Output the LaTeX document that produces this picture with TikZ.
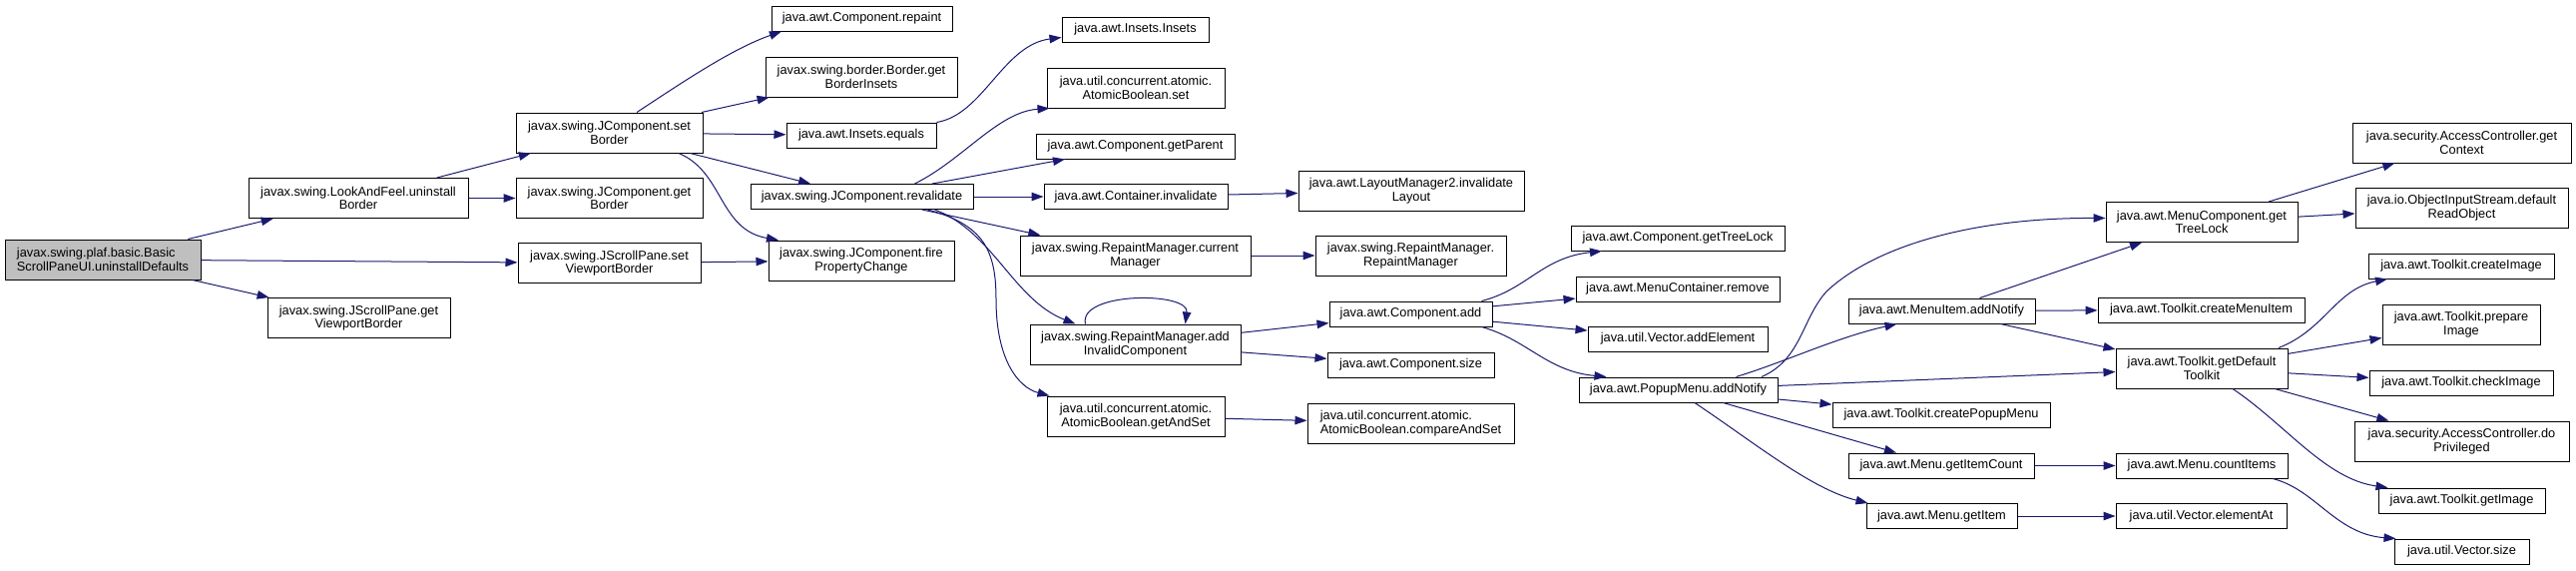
\documentclass[tikz,border=0pt]{standalone}
\usepackage{fontspec}
\setmainfont{Liberation Sans}
\usetikzlibrary{arrows.meta}
\definecolor{edgeblue}{HTML}{191970}
\definecolor{rootgray}{HTML}{BFBFBF}
\tikzset{
  fn/.style={draw=black, line width=1pt, fill=white, inner sep=0pt, align=center,
    font=\fontsize{12.8}{13.5}\selectfont},
  one/.style={minimum height=25pt},
  two/.style={minimum height=40pt},
  call/.style={->, draw=edgeblue, line width=1pt},
}
\begin{document}
\begin{tikzpicture}[x=1pt,y=-1pt,>={Triangle[length=12pt,width=8.5pt]}]
  \useasboundingbox (0,0) rectangle (2581,571);

  % 起点
  \node[fn,two,fill=rootgray,align=left,minimum width=196pt] (root) at (103,260) {javax.swing.plaf.basic.Basic\\ScrollPaneUI.uninstallDefaults};

  % 第二、三列
  \node[fn,two,minimum width=220pt] (laf) at (359,198.5) {javax.swing.LookAndFeel.uninstall\\Border};
  \node[fn,two,minimum width=183pt] (getVB) at (359.5,318.5) {javax.swing.JScrollPane.get\\ViewportBorder};
  \node[fn,two,minimum width=187pt] (setBorder) at (610.5,133) {javax.swing.JComponent.set\\Border};
  \node[fn,two,minimum width=187pt] (getBorder) at (610.5,198.5) {javax.swing.JComponent.get\\Border};
  \node[fn,two,minimum width=183pt] (setVB) at (610.5,263.5) {javax.swing.JScrollPane.set\\ViewportBorder};

  % 第四列
  \node[fn,one,minimum width=181pt] (repaint) at (863.5,18.5) {java.awt.Component.repaint};
  \node[fn,two,minimum width=192pt] (borderInsets) at (863,77) {javax.swing.border.Border.get\\BorderInsets};
  \node[fn,one,minimum width=150pt] (insEq) at (863,135.5) {java.awt.Insets.equals};
  \node[fn,one,minimum width=223pt] (revalidate) at (863.5,197) {javax.swing.JComponent.revalidate};
  \node[fn,two,minimum width=186pt] (fire) at (863,261) {javax.swing.JComponent.fire\\PropertyChange};

  % 第五列
  \node[fn,one,minimum width=147pt] (insIns) at (1137.5,29.5) {java.awt.Insets.Insets};
  \node[fn,two,minimum width=178pt] (abSet) at (1138,88) {java.util.concurrent.atomic.\\AtomicBoolean.set};
  \node[fn,one,minimum width=199pt] (getParent) at (1137.5,146.5) {java.awt.Component.getParent};
  \node[fn,one,minimum width=184pt] (contInv) at (1138,197) {java.awt.Container.invalidate};
  \node[fn,two,minimum width=231pt] (curMgr) at (1137.5,256) {javax.swing.RepaintManager.current\\Manager};
  \node[fn,two,minimum width=211pt] (addInv) at (1137.5,345) {javax.swing.RepaintManager.add\\InvalidComponent};
  \node[fn,two,minimum width=178pt] (getAndSet) at (1138,417) {java.util.concurrent.atomic.\\AtomicBoolean.getAndSet};

  % 第六列
  \node[fn,two,minimum width=226pt] (invLayout) at (1414,191) {java.awt.LayoutManager2.invalidate\\Layout};
  \node[fn,two,minimum width=191pt] (rmCtor) at (1413.5,256) {javax.swing.RepaintManager.\\RepaintManager};
  \node[fn,one,minimum width=163pt] (compAdd) at (1413.5,314.5) {java.awt.Component.add};
  \node[fn,one,minimum width=167pt] (compSize) at (1413.5,365.5) {java.awt.Component.size};
  \node[fn,two,align=left,minimum width=207pt] (cas) at (1413.5,424) {java.util.concurrent.atomic.\\AtomicBoolean.compareAndSet};

  % 第七列
  \node[fn,one,minimum width=214pt] (treeLock) at (1681,238.5) {java.awt.Component.getTreeLock};
  \node[fn,one,minimum width=204pt] (mcRemove) at (1681,289.5) {java.awt.MenuContainer.remove};
  \node[fn,one,minimum width=180pt] (addElem) at (1681,339.5) {java.util.Vector.addElement};
  \node[fn,one,minimum width=199pt] (popup) at (1681.5,390.5) {java.awt.PopupMenu.addNotify};

  % 第八列
  \node[fn,one,minimum width=187pt] (miAdd) at (1945.5,311.5) {java.awt.MenuItem.addNotify};
  \node[fn,one,minimum width=218pt] (mkPopup) at (1945,415.5) {java.awt.Toolkit.createPopupMenu};
  \node[fn,one,minimum width=186pt] (itemCount) at (1945,466.5) {java.awt.Menu.getItemCount};
  \node[fn,one,minimum width=151pt] (getItem) at (1945.5,517) {java.awt.Menu.getItem};

  % 第九列
  \node[fn,two,minimum width=192pt] (mcTreeLock) at (2206,222.5) {java.awt.MenuComponent.get\\TreeLock};
  \node[fn,one,minimum width=207pt] (mkMenuItem) at (2205.5,310.5) {java.awt.Toolkit.createMenuItem};
  \node[fn,two,minimum width=172pt] (defTk) at (2206,369) {java.awt.Toolkit.getDefault\\Toolkit};
  \node[fn,one,minimum width=172pt] (countItems) at (2206,466.5) {java.awt.Menu.countItems};
  \node[fn,one,minimum width=171pt] (elemAt) at (2205.5,517) {java.util.Vector.elementAt};

  % 第十列
  \node[fn,two,minimum width=219pt] (getCtx) at (2466.5,143) {java.security.AccessController.get\\Context};
  \node[fn,two,minimum width=213pt] (readObj) at (2466.5,208) {java.io.ObjectInputStream.default\\ReadObject};
  \node[fn,one,minimum width=186pt] (mkImage) at (2466,266.5) {java.awt.Toolkit.createImage};
  \node[fn,two,minimum width=158pt] (prepImage) at (2466,325) {java.awt.Toolkit.prepare\\Image};
  \node[fn,one,minimum width=184pt] (chkImage) at (2466,383.5) {java.awt.Toolkit.checkImage};
  \node[fn,two,minimum width=215pt] (doPriv) at (2466.5,442) {java.security.AccessController.do\\Privileged};
  \node[fn,one,minimum width=167pt] (getImage) at (2466.5,501.5) {java.awt.Toolkit.getImage};
  \node[fn,one,minimum width=135pt] (vecSize) at (2466.5,552.5) {java.util.Vector.size};

  % 连线
  \draw[call] (root) -- (laf);
  \draw[call] (root) -- (setVB);
  \draw[call] (root) -- (getVB);
  \draw[call] (laf) -- (setBorder);
  \draw[call] (laf) -- (getBorder);
  \draw[call] ([xshift=27.5pt]setBorder.north) .. controls (683,83) and (733,49) .. ([xshift=-80.5pt]repaint.south);
  \draw[call] (setBorder) -- (borderInsets);
  \draw[call] (setBorder) -- (insEq);
  \draw[call] (setBorder) -- (revalidate);
  \draw[call] ([xshift=69.5pt]setBorder.south) .. controls (725,172) and (720,230) .. ([xshift=-83pt]fire.north);
  \draw[call] (setVB) -- (fire);
  \draw[call] (insEq.north east) .. controls (985,115) and (1005,45) .. ([yshift=5pt]insIns.south west);

  \draw[call] ([xshift=53pt]revalidate.north) .. controls (965,160) and (1000,112) .. ([xshift=3pt]abSet.south west);
  \draw[call] (revalidate) -- (getParent);
  \draw[call] (revalidate) -- (contInv);
  \draw[call] (revalidate) -- (curMgr);
  \draw[call] ([xshift=73pt]revalidate.south) .. controls (995,232) and (1015,300) .. ([xshift=-60pt]addInv.north);
  \draw[call] ([xshift=66pt]revalidate.south) .. controls (985,225) and (998,250) .. (998,300)
     .. controls (998,360) and (1020,388) .. ([xshift=3pt]getAndSet.north west);

  \draw[call] ([xshift=-50pt]addInv.north) .. controls (1080,292) and (1192,292) .. ([xshift=50pt]addInv.north);
  \draw[call] (contInv) -- (invLayout);
  \draw[call] (curMgr) -- (rmCtor);
  \draw[call] (addInv) -- (compAdd);
  \draw[call] (addInv) -- (compSize);
  \draw[call] (getAndSet) -- (cas);

  \draw[call] ([xshift=71pt]compAdd.north) .. controls (1530,290) and (1545,258) .. ([xshift=-76pt]treeLock.south);
  \draw[call] (compAdd) -- (mcRemove);
  \draw[call] (compAdd) -- (addElem);
  \draw[call] ([xshift=71pt]compAdd.south) .. controls (1530,340) and (1550,372) .. ([xshift=-72pt]popup.north);

  \draw[call] ([xshift=83.5pt]popup.north) .. controls (1805,360) and (1805,320) .. (1830,292)
     .. controls (1880,245) and (1980,218) .. ([yshift=4pt]mcTreeLock.west);
  \draw[call] ([xshift=58pt]popup.north) .. controls (1790,362) and (1840,338) .. ([xshift=-45pt]miAdd.south);
  \draw[call] (popup) -- (defTk);
  \draw[call] (popup) -- (mkPopup);
  \draw[call] (popup) -- (itemCount);
  \draw[call] ([xshift=16.5pt]popup.south) .. controls (1760,445) and (1815,490) .. ([xshift=2pt]getItem.north west);

  \draw[call] (miAdd) -- (mcTreeLock);
  \draw[call] (miAdd) -- (mkMenuItem);
  \draw[call] (miAdd) -- (defTk);
  \draw[call] (itemCount) -- (countItems);
  \draw[call] (getItem) -- (elemAt);
  \draw[call] ([xshift=71pt]countItems.south) .. controls (2320,490) and (2340,535) .. ([xshift=-66pt]vecSize.north);

  \draw[call] (mcTreeLock) -- (getCtx);
  \draw[call] (mcTreeLock) -- (readObj);
  \draw[call] ([xshift=77pt]defTk.north) .. controls (2330,330) and (2340,290) .. ([xshift=-74pt]mkImage.south);
  \draw[call] (defTk) -- (prepImage);
  \draw[call] (defTk) -- (chkImage);
  \draw[call] (defTk) -- (doPriv);
  \draw[call] ([xshift=31pt]defTk.south) .. controls (2290,425) and (2330,480) .. ([xshift=10pt]getImage.north west);
\end{tikzpicture}
\end{document}
